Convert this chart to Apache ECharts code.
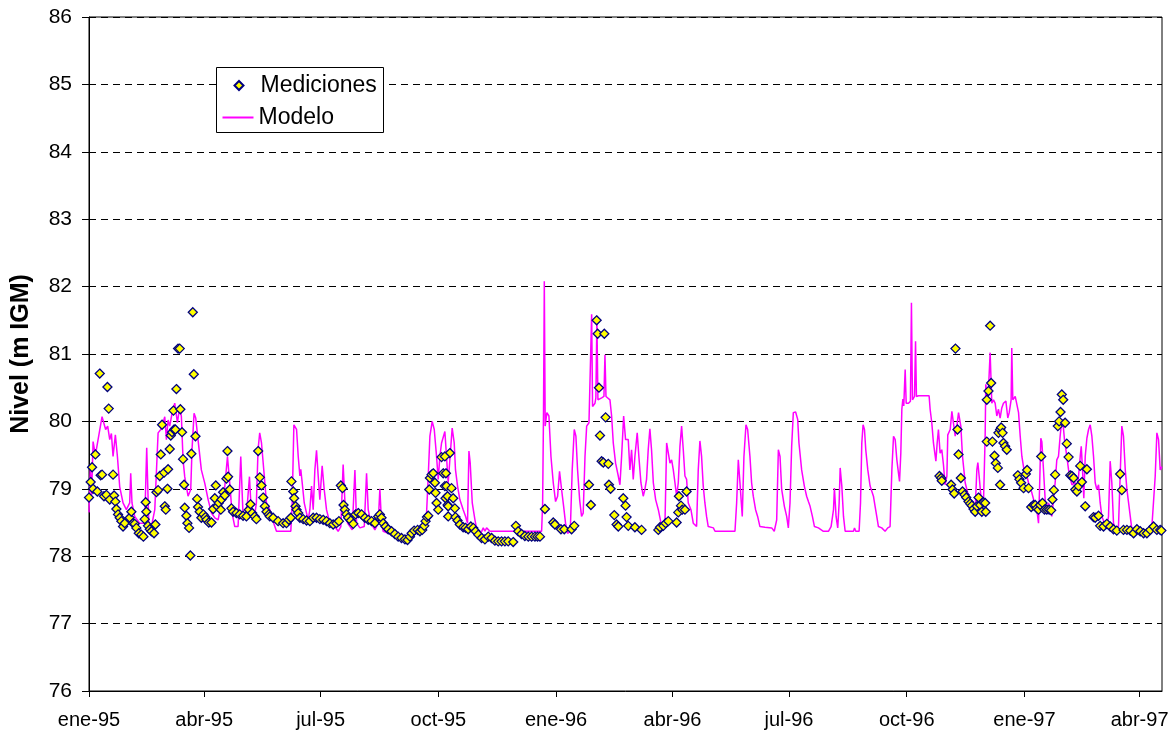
<!DOCTYPE html>
<html>
<head>
<meta charset="utf-8">
<script src="https://cdn.jsdelivr.net/npm/echarts@6/dist/echarts.min.js"></script>
<style>
  html, body { margin: 0; padding: 0; background: #ffffff; }
  #chart { width: 1176px; height: 736px; }
</style>
</head>
<body>
<div id="chart"></div>
<script>
// ---------------- DATA (days counted from 1995-01-01) ----------------
const startDate = '1995-01-01';
const endDay = 838.5;

const tickDates = ['1995-01-01','1995-04-01','1995-07-01','1995-10-01','1996-01-01',
                   '1996-04-01','1996-07-01','1996-10-01','1997-01-01','1997-04-01'];
const tickLabels = ['ene-95','abr-95','jul-95','oct-95','ene-96',
                    'abr-96','jul-96','oct-96','ene-97','abr-97'];

const yTicks = [76, 77, 78, 79, 80, 81, 82, 83, 84, 85, 86];

// Modelo (simulated level, m IGM)
const modelDay = [
  0,1,2,3.2,5,10.2,13,14.6,16.2,17.5,18.8,20.6,22.2,24,26.6,29.2,31.8,32.6,33.6,35.7,
  39.6,43.5,45.1,46.7,48.8,51.4,54,56.1,57.9,59.2,60.5,61.8,63.1,64.9,67,69.1,70.9,72.2,73.5,74.8,
  77.4,79.5,80.5,82.1,83.4,85.2,87.8,90.5,93.1,95.7,98.3,100.9,103.5,106.1,108.2,110,111.8,113.9,116.5,118.6,
  120.2,121.7,123.8,125.4,127,129,130.8,132.1,133.4,134.8,136.8,138.7,141.3,
  142.6,146.5,157.7,158.8,160.1,160.9,162.2,163.5,164.8,165.5,166.6,168.2,170,171.3,172.6,173.9,175.2,176.5,177.8,179.1,
  180.4,182.2,183.8,185.6,188.2,192.1,194.7,196.8,198.6,199.9,202,205.7,207.8,209.1,211.7,215.1,216.9,218.2,220.3,223.4,
  226,227.3,228.6,229.9,236.4,241.6,246.9,249.5,252.1,256,259.9,262,263.8,265.1,266.4,268.2,269.8,271.6,272.9,274.2,
  275.5,278.1,
  280.7,282,283.8,285.4,286.4,288,289.8,292.4,294.3,295.8,296.9,297.9,299.5,301.6,303.6,306.2,308.1,309.4,310.7,313.3,
  353.7,354.5,355.2,355.8,356.5,357.8,359.4,361,362.8,364.6,366.2,367.7,369.3,370.9,372.4,374,376.1,377.6,379.2,380.5,
  381.8,383.4,384.9,386.2,387.6,388.9,390.7,392,392.8,393.5,395.4,396.1,396.9,397.7,400.6,402.4,403.2,404,407.1,408.4,
  409.7,411.5,413.6,414.9,416.2,417.8,419.3,
  421.4,422.7,424,425.3,426.6,428.4,429.7,431.3,433.1,434.4,435.7,437,438.3,439.6,441,442.8,444.9,447,448.8,450.1,
  451.4,452.7,454,455.3,456.6,457.9,459.2,460.5,461.8,463.1,464.4,465.7,467,468.3,470.4,472.2,474.8,476.1,477.4,478.7,
  480,481.3,482.6,483.9,487.9,489.2,504.8,506.1,507.4,508.7,510.5,511.8,513.4,514.7,516.5,517.8,519.1,520.9,522.5,524.3,
  528.2,533.5,535.5,537.4,538.7,540,541.3,543.4,545.2,546.5,547.8,549.1,550.4,552.2,553.8,554.8,556.9,559,560.8,
  562.2,563.5,565.3,566.9,570,573.9,577.8,579.9,581.8,582.5,583.8,585.1,586.2,587,588.3,589.6,590.9,597.4,598.2,599.2,
  601.8,602.9,603.9,604.9,606,607,608.6,610.4,611.7,613,614.3,615.6,616.9,619.5,622.1,624.2,626,627.4,628.7,630,
  631.3,632.6,633.4,634.4,635.2,636,636.7,637.8,638.6,640.4,641.9,642.7,643.5,645.1,645.9,646.6,648.2,656.5,657.3,658.6,
  659.9,661.8,662.8,663.8,665.1,666.4,667.7,669,670.4,671.1,673,674.3,675.6,676.9,678.2,679.5,680.3,681.3,682.6,684.7,
  687.3,689.9,692.5,693.8,694.6,695.6,697.2,699,700.3,700.8,702.4,
  704.2,705.5,706.8,708.1,709.4,710.7,712,713.3,714.6,716.5,718,719.1,720.6,721.1,721.9,723.8,725.1,726.4,727.7,729,
  731.1,732.9,734.2,736.8,738.9,740.7,742,742.8,743.8,744.6,745.9,747.2,748.5,749.8,751.1,752.4,753.7,755,756.3,757.6,
  758.9,760.2,761,762.3,764.1,765.5,766.8,768.1,769.4,770.7,772,773.3,774.6,775.4,776.4,777.4,778.5,779.8,781.1,782.4,
  783.7,785,786.3,787.6,788.9,790.2,791.5,793.6,795.4,796.7,798,799.3,800.6,801.9,804.5,805.8,807.1,808.4,809.8,811.1,
  812.4,813.7,815,817.6,822.8,828,830.6,833.2,834.5,835.8,837.1,838.4
];
const modelLevel = [
  78.65,79.3,78.9,79.7,79.5,80.07,79.88,79.93,79.73,79.82,79.48,79.8,79.48,79.03,78.79,78.69,78.79,79.23,78.79,78.59,
  78.49,78.49,79.61,78.49,78.44,78.69,79.83,79.88,79.98,80.07,79.73,80.02,79.93,80.12,80.27,79.98,80.22,80.07,79.43,79.18,
  78.89,78.99,79.58,80.12,80.05,79.73,79.28,79.08,78.84,78.64,78.57,78.54,78.79,79.03,79.48,79.08,78.64,78.44,78.44,79.48,
  78.69,78.59,78.79,79.18,78.59,78.54,78.79,79.58,79.83,79.68,79.23,78.79,78.69,
  78.59,78.37,78.37,78.79,79.95,79.97,79.88,79.48,79.19,79.29,79.09,78.79,78.64,78.54,78.69,79.04,78.69,79.28,79.57,79.19,
  78.84,79.34,78.99,78.69,78.49,78.44,78.37,78.44,79.36,78.84,78.49,78.39,79.28,78.49,78.42,78.44,79.23,78.69,78.49,78.39,
  78.49,79.0,78.49,78.37,78.32,78.27,78.22,78.24,78.34,78.38,78.37,78.44,78.64,79.19,79.78,80.0,79.88,79.48,79.14,79.48,
  79.68,79.85,
  79.09,79.43,79.9,79.68,79.28,79.04,78.84,78.69,78.59,78.49,79.56,79.38,78.79,78.54,78.34,78.34,78.42,78.37,78.42,78.37,
  78.37,78.79,80.18,82.08,79.93,80.13,80.08,79.48,79.09,78.81,78.89,79.26,78.99,78.74,78.49,78.34,78.37,79.28,79.88,79.78,
  79.28,78.84,78.59,78.64,79.48,79.93,79.98,80.0,81.59,80.22,80.27,80.35,81.51,80.32,80.35,80.37,80.99,80.37,80.32,80.08,
  79.68,79.38,79.19,79.06,79.48,80.08,79.73,
  79.73,79.28,79.58,79.14,79.48,79.83,79.48,79.09,78.89,78.99,79.14,79.58,79.89,79.58,79.09,78.84,78.69,78.49,78.44,78.49,
  79.68,79.68,79.38,79.43,79.28,79.09,78.89,79.09,79.63,79.93,79.58,79.19,79.14,78.79,78.69,78.49,78.44,79.28,79.71,79.48,
  79.04,78.79,78.59,78.44,78.42,78.37,78.37,78.79,79.43,79.09,78.59,79.48,79.95,79.88,79.48,79.09,78.89,78.69,78.59,78.44,
  78.43,78.42,78.37,78.54,79.58,79.48,78.99,78.74,78.59,78.42,78.79,79.63,80.13,80.14,80.03,79.68,79.28,79.04,78.89,
  78.81,78.74,78.59,78.44,78.42,78.37,78.37,78.44,78.69,79.01,78.59,78.42,78.79,79.31,79.04,78.59,78.37,78.37,78.42,78.37,
  78.37,78.79,79.68,79.95,79.88,79.58,79.28,79.04,79.06,78.89,78.74,78.59,78.44,78.42,78.37,78.42,78.44,79.28,79.78,79.73,
  79.43,79.23,79.11,79.53,80.18,80.33,80.23,80.77,80.27,80.27,80.3,81.76,80.32,80.37,81.19,80.37,80.38,80.38,80.18,79.98,
  79.68,79.41,79.68,79.88,79.53,79.58,79.36,79.06,79.19,79.8,79.88,80.15,80.13,79.78,79.93,80.13,80.15,79.93,79.48,79.09,
  78.89,78.76,78.69,79.28,79.39,79.19,78.84,78.79,79.78,80.55,80.27,
  81.02,80.27,80.32,80.27,80.08,80.18,80.05,80.2,80.27,80.3,80.05,80.13,80.32,81.09,80.32,80.37,80.35,80.13,79.78,79.48,
  79.23,79.19,79.09,78.94,78.79,78.69,78.49,78.99,79.75,79.7,79.28,78.84,78.69,78.79,78.69,78.59,78.84,79.09,79.43,79.48,
  79.78,80.03,80.0,79.73,79.48,79.28,79.16,79.06,79.04,79.09,78.99,79.19,79.48,79.63,79.28,78.86,79.48,79.75,79.88,79.95,
  79.78,79.48,79.09,78.99,79.06,78.79,78.59,78.49,78.44,78.59,79.41,79.09,78.49,78.42,78.44,79.19,79.93,79.78,79.28,78.99,
  78.79,78.59,78.39,78.37,78.37,78.39,78.44,79.19,79.83,79.73,79.28,79.33
];

// Mediciones (measured level, m IGM)
const medDay = [
  0,1.3,2.4,3.2,5,6.5,8.4,9.1,10.2,11.7,13.6,14.4,15.4,16.2,18.8,19.6,20.6,21.4,22.7,24,
  25.3,26.6,27.9,31.8,33.1,34.4,35.7,37,38.9,40.9,42.5,43.5,44.3,44.8,46.1,47.5,48.8,50.8,51.9,52.7,
  54,55.3,56.1,57.1,58.7,59.2,60,61.3,61.8,63.1,63.9,64.9,66,66.5,67.5,68.3,69.6,70.9,71.4,72.7,
  73.5,74.3,74.8,76.1,76.9,78.2,79.2,80,81.1,81.9,83.2,84.5,85.2,86.5,87.8,89.4,91,91.8,93.6,95.7,
  97,98.3,99.1,100.4,101.4,103,103.5,104.8,106.1,107.4,108.2,108.7,110,111.3,112.6,115.2,117.8,120.4,123,124.9,
  126.2,127.5,129.5,130.8,132.2,133.5,134.8,136.1,137.4,138.7,140.5,
  141.3,143.9,147.8,151.7,154.3,156.2,157.7,158.2,159.6,160.3,161.4,162.2,163.5,164.8,167.4,170,172.6,175.2,177.8,180.4,
  183,185.6,188.2,190.8,193.4,195.3,196.8,198.1,198.9,199.9,201.2,202.5,204.6,206.5,208.3,210.4,213,215.6,218.2,220.8,
  223.4,226,227.3,228.6,229.9,231.7,233.8,236.4,239,241.6,244.2,246.9,248.9,250.8,252.1,254.1,256.8,258.6,260.4,262,
  263,264.1,265.1,265.9,266.4,267.7,269,270.3,270.8,271.6,272.9,275.5,276.8,278.1,278.6,280.2,280.7,282,
  278.1,278.9,279.4,280.2,280.7,283.3,284.6,285.9,286.4,288,289.8,292.4,294.3,296.3,298.4,300.3,302.1,304.2,306.8,309.4,
  312,314.6,317.2,319.8,322.4,325,327.6,331.5,333.6,335.4,338,340.6,343.3,345.9,348.5,350.5,352.4,356.3,362.8,364.1,
  368.8,371.4,377.1,379.2,390.7,392.2,396.7,397.5,398.5,399.3,400.6,401.9,402.7,403.7,405.8,406.3,407.6,410.5,412.3,413.6,
  417.5,419.3,420.1,421.4,426.6,431.8,444.9,446.2,448.8,450.6,452.7,459.2,460.5,461,462.6,463.6,465.7,467,
  664.6,665.9,666.4,673.7,674.8,676.1,677.1,678.7,679.5,681.3,682.6,684.2,685.5,687.3,688.6,689.9,691.2,692.5,693.8,695.1,
  696.4,697.7,699,700.3,700.8,701.6,701.6,702.9,704.2,705,706,707.6,708.6,710.2,712,710.7,712,712.8,713.9,714.6,
  715.9,717.2,725.8,727.1,728.4,730.3,732.1,733.1,734.2,736.3,738.1,739.4,740.7,742,743.3,744.1,745.1,746.7,748.5,750.3,
  751.9,752.9,754,755,757.1,758.1,759.2,760.2,761.3,762.8,764.1,765.5,766.8,768.1,769.4,770.7,772,773.3,774.6,775.9,
  778.5,779.8,785,786.3,788.9,790.2,792.8,795.4,798,800.6,803.2,805.8,807.1,808.4,811.1,813.7,816.3,818.9,821.5,824.1,
  826.7,829.3,831.9,834.5,837.1,838
];
const medLevel = [
  78.87,79.1,79.32,79.0,79.51,78.96,80.71,79.2,79.21,78.89,78.91,80.51,80.19,78.84,79.21,78.9,78.81,78.7,78.62,78.57,
  78.52,78.44,78.49,78.57,78.66,78.49,78.48,78.42,78.34,78.32,78.29,78.55,78.8,78.66,78.45,78.4,78.37,78.34,78.47,78.95,
  78.98,79.19,79.51,79.95,79.24,78.74,78.69,79.0,79.29,79.59,79.79,79.84,80.16,79.88,79.88,80.48,81.08,81.08,80.18,79.84,
  79.44,79.06,78.72,78.6,78.49,78.42,78.01,79.52,81.62,80.7,79.78,78.85,78.73,78.66,78.57,78.62,78.58,78.54,78.5,78.5,
  78.7,78.86,79.05,78.74,78.79,78.69,78.84,78.95,78.9,79.15,79.56,79.18,78.99,78.71,78.66,78.64,78.62,78.6,78.59,78.69,
  78.77,78.64,78.59,78.55,79.56,79.17,79.05,78.87,78.74,78.66,78.62,
  78.59,78.57,78.52,78.49,78.49,78.54,78.57,79.11,78.96,78.86,78.74,78.69,78.64,78.57,78.55,78.53,78.52,78.57,78.57,78.55,
  78.54,78.52,78.49,78.47,78.49,78.52,79.05,79.01,78.76,78.69,78.62,78.57,78.53,78.48,78.62,78.64,78.62,78.57,78.54,78.52,
  78.49,78.59,78.62,78.57,78.49,78.44,78.4,78.37,78.33,78.29,78.27,78.25,78.24,78.29,78.34,78.38,78.39,78.37,78.39,78.45,
  78.52,78.58,78.6,78.99,79.16,79.21,79.23,79.09,78.94,78.79,78.69,79.47,79.23,79.04,78.86,78.76,78.59,79.53,
  79.48,79.23,79.04,78.89,78.74,79.01,78.86,78.71,78.58,78.53,78.47,78.43,78.42,78.4,78.44,78.42,78.37,78.32,78.27,78.25,
  78.29,78.27,78.23,78.22,78.22,78.22,78.22,78.21,78.45,78.37,78.33,78.3,78.29,78.29,78.29,78.29,78.29,78.7,78.5,78.47,
  78.4,78.4,78.4,78.45,79.06,78.76,81.5,81.3,80.5,79.79,79.41,79.39,81.3,80.06,79.37,79.06,79.0,78.61,78.47,78.44,
  78.86,78.75,78.58,78.45,78.43,78.39,78.39,78.43,78.45,78.49,78.52,78.5,78.65,78.89,78.75,78.69,78.69,78.96,
  79.19,79.16,79.12,79.06,78.99,78.93,81.08,79.88,79.51,79.16,78.96,78.91,78.87,78.81,78.78,78.75,78.7,78.66,78.74,78.87,
  78.76,78.66,78.8,78.79,78.66,80.32,79.7,80.45,81.42,80.57,79.7,79.49,79.38,79.31,79.06,79.83,79.88,79.91,79.83,79.68,
  79.63,79.58,79.2,79.14,79.09,79.01,79.22,79.28,79.01,78.73,78.76,78.76,78.71,78.69,78.76,79.48,78.79,78.69,78.69,78.69,
  78.68,78.84,78.98,79.21,79.93,80.0,80.14,80.4,80.32,79.98,79.67,79.47,79.2,79.19,79.16,78.99,78.96,79.04,79.34,79.1,
  78.74,79.29,78.58,78.57,78.6,78.45,78.44,78.48,78.44,78.4,78.38,79.22,78.98,78.39,78.39,78.38,78.34,78.4,78.37,78.34,
  78.34,78.39,78.44,78.39,78.39,78.38
];

// ---------------- CHART ----------------
const DAY_MS = 86400000;
const t0 = Date.parse(startDate + 'T00:00:00Z');
const toMs = d => t0 + d * DAY_MS;
const tickValues = tickDates.map(d => Date.parse(d + 'T00:00:00Z'));

const modelData = modelDay.map((d, i) => [toMs(d), modelLevel[i]]);
const medData = medDay.map((d, i) => [toMs(d), medLevel[i]]);

const FONT = "'Liberation Sans', Arial, sans-serif";
const legendText = { fontFamily: FONT, fontSize: 23, color: '#000000', lineHeight: 23 };

const chart = echarts.init(document.getElementById('chart'), null, { renderer: 'canvas' });
chart.setOption({
  animation: false,
  backgroundColor: '#ffffff',
  textStyle: { fontFamily: FONT },
  grid: {
    left: 89, top: 17, width: 1073, height: 674,
    containLabel: false,
    show: true, borderColor: '#000000', borderWidth: 1, backgroundColor: 'transparent'
  },
  graphic: [{
    type: 'rect',
    z: 3,
    shape: { x: 216.5, y: 67.5, width: 167, height: 65 },
    style: { fill: '#ffffff', stroke: '#000000', lineWidth: 1 }
  }],
  legend: [
    {
      left: 233.5, top: 74,
      padding: 0,
      z: 5,
      selectedMode: false,
      itemWidth: 9, itemHeight: 9,
      textStyle: Object.assign({ padding: [0, 0, 0, 12] }, legendText),
      data: [{ name: 'Mediciones', icon: 'diamond' }]
    },
    {
      left: 222.5, top: 106,
      padding: 0,
      z: 5,
      selectedMode: false,
      itemWidth: 31, itemHeight: 2,
      textStyle: legendText,
      data: [{ name: 'Modelo', icon: 'rect' }]
    }
  ],
  xAxis: {
    type: 'value',
    min: toMs(0), max: toMs(endDay),
    axisLine: { show: true, lineStyle: { color: '#000000', width: 1 } },
    axisTick: { show: true, inside: false, length: 6, customValues: tickValues,
                lineStyle: { color: '#000000' } },
    axisLabel: {
      customValues: tickValues,
      margin: 19,
      fontSize: 20, color: '#000000', fontFamily: FONT,
      formatter: function (v) {
        const i = tickValues.indexOf(Number(v));
        return i >= 0 ? tickLabels[i] : '';
      }
    },
    splitLine: { show: false }
  },
  yAxis: {
    type: 'value',
    min: yTicks[0], max: yTicks[yTicks.length - 1], interval: 1,
    name: 'Nivel (m IGM)',
    nameLocation: 'middle',
    nameRotate: 90,
    nameGap: 55,
    nameTextStyle: { fontFamily: FONT, fontSize: 25, fontWeight: 'bold', color: '#000000' },
    axisLine: { show: true, lineStyle: { color: '#000000', width: 1 } },
    axisTick: { show: true, inside: false, length: 7, lineStyle: { color: '#000000' } },
    axisLabel: { margin: 17, fontSize: 21, color: '#000000', fontFamily: FONT },
    splitLine: { show: true, lineStyle: { color: '#000000', width: 1, type: [7, 5] } }
  },
  series: [
    {
      name: 'Modelo',
      type: 'line',
      data: modelData,
      showSymbol: false,
      symbol: 'none',
      lineStyle: { color: '#FF00FF', width: 1.5 },
      itemStyle: { color: '#FF00FF' },
      z: 2
    },
    {
      name: 'Mediciones',
      type: 'scatter',
      data: medData,
      symbol: 'diamond',
      symbolSize: 9,
      itemStyle: { color: '#FFFF00', borderColor: '#000080', borderWidth: 1.3, opacity: 1 },
      z: 3
    }
  ]
});
</script>
</body>
</html>
